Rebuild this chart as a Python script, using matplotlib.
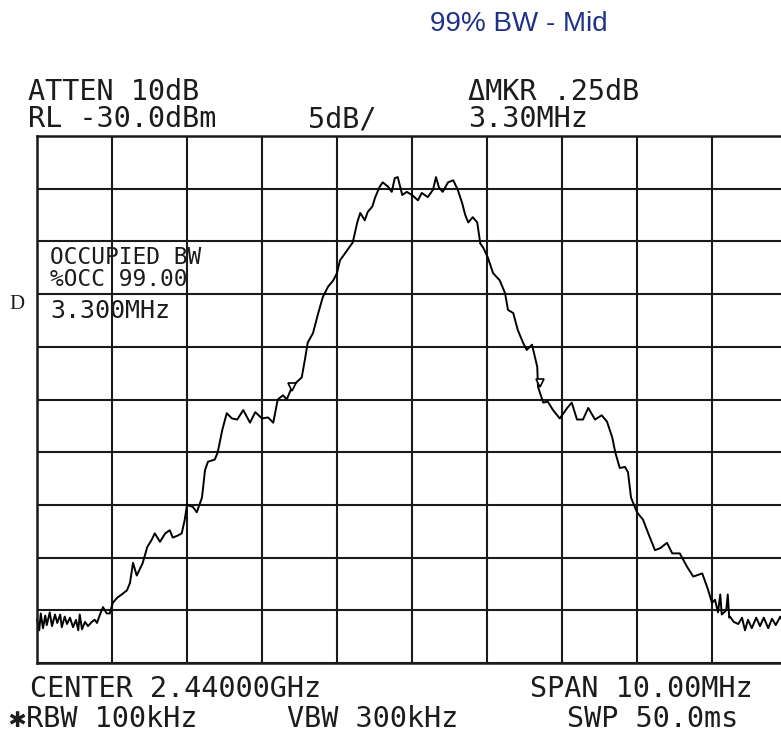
import matplotlib
matplotlib.use("Agg")
import matplotlib.pyplot as plt

# Spectrum analyser trace: frequency offset from center (MHz) and level (dBm)
freq_mhz = [-5.00, -4.97, -4.95, -4.92, -4.89, -4.87, -4.83, -4.80, -4.76, -4.73,
            -4.69, -4.67, -4.63, -4.60, -4.56, -4.52, -4.48, -4.45, -4.43, -4.40,
            -4.36, -4.32, -4.27, -4.23, -4.20, -4.16, -4.12, -4.07, -4.03, -3.99,
            -3.93, -3.87, -3.80, -3.76, -3.72, -3.67, -3.59, -3.53, -3.47, -3.43,
            -3.36, -3.29, -3.23, -3.19, -3.12, -3.07, -3.03, -3.00, -2.92, -2.87,
            -2.80, -2.76, -2.72, -2.63, -2.59, -2.53, -2.47, -2.40, -2.33, -2.25,
            -2.16, -2.09, -2.00, -1.92, -1.85, -1.79, -1.72, -1.67, -1.60, -1.53,
            -1.47, -1.43, -1.39, -1.32, -1.25, -1.19, -1.12, -1.05, -1.00, -0.96,
            -0.89, -0.83, -0.79, -0.73, -0.69, -0.63, -0.59, -0.53, -0.49, -0.43,
            -0.39, -0.32, -0.27, -0.23, -0.19, -0.13, -0.07, 0.00, 0.08, 0.13,
            0.21, 0.28, 0.32, 0.36, 0.41, 0.48, 0.55, 0.61, 0.67, 0.71,
            0.75, 0.81, 0.87, 0.91, 0.95, 1.01, 1.08, 1.17, 1.24, 1.28,
            1.35, 1.41, 1.48, 1.53, 1.60, 1.67, 1.68, 1.75, 1.81, 1.88,
            1.97, 2.07, 2.13, 2.20, 2.28, 2.35, 2.44, 2.53, 2.60, 2.67,
            2.71, 2.77, 2.84, 2.88, 2.92, 3.00, 3.08, 3.15, 3.24, 3.31,
            3.40, 3.47, 3.57, 3.67, 3.75, 3.87, 3.95, 4.00, 4.04, 4.08,
            4.11, 4.13, 4.19, 4.21, 4.23, 4.24, 4.29, 4.35, 4.40, 4.44,
            4.48, 4.53, 4.59, 4.64, 4.69, 4.75, 4.80, 4.85, 4.91, 4.96, 5.00]
level_dbm = [-75.9, -76.9, -75.3, -76.7, -75.5, -76.4, -75.2, -76.5, -75.4, -76.2,
             -75.4, -76.6, -75.6, -76.3, -75.7, -76.6, -75.9, -76.9, -75.4, -76.8,
             -76.1, -76.5, -76.1, -75.9, -76.2, -75.4, -74.7, -75.3, -75.3, -74.3,
             -73.8, -73.5, -73.1, -72.4, -70.5, -71.7, -70.5, -69.0, -68.3, -67.7,
             -68.5, -67.7, -67.4, -68.1, -67.9, -67.7, -66.4, -65.0, -65.2, -65.7,
             -64.3, -61.7, -60.9, -60.7, -60.0, -57.9, -56.3, -56.8, -56.9, -56.0,
             -57.2, -56.2, -56.8, -56.7, -57.2, -55.0, -54.6, -55.0, -53.8, -53.3,
             -52.9, -51.3, -49.6, -48.7, -46.8, -45.3, -44.3, -43.7, -43.0, -41.8,
             -41.1, -40.5, -40.1, -38.2, -37.3, -38.0, -37.2, -36.7, -35.8, -34.8,
             -34.4, -34.8, -35.3, -34.0, -33.9, -35.6, -35.3, -35.6, -36.1, -35.4,
             -35.8, -35.1, -33.9, -34.9, -35.3, -34.4, -34.2, -35.1, -36.4, -37.5,
             -38.2, -37.7, -38.2, -40.2, -40.6, -41.5, -43.0, -43.7, -44.9, -46.5,
             -46.8, -48.4, -49.6, -50.3, -49.8, -51.9, -53.8, -55.3, -55.2, -56.0,
             -56.8, -55.8, -55.3, -56.9, -56.9, -55.8, -56.9, -56.5, -57.1, -58.6,
             -60.0, -61.5, -61.4, -61.9, -64.3, -65.7, -66.4, -67.7, -69.3, -69.1,
             -68.6, -69.6, -69.6, -70.9, -71.8, -71.5, -73.1, -74.3, -74.0, -75.2,
             -73.5, -75.4, -75.0, -73.5, -75.7, -75.6, -76.1, -76.3, -75.7, -76.9,
             -75.9, -76.7, -75.7, -76.5, -75.7, -76.7, -75.8, -76.4, -75.6, -76.3, -75.9]

# occupied bandwidth markers
marker_freq = [-1.60, 1.71]
marker_level = [-53.8, -53.4]

title = "99% BW - Mid"
header_left = ["ATTEN 10dB", "RL -30.0dBm"]
header_mid = "5dB/"
header_right = ["\u0394MKR .25dB", "3.30MHz"]
obw_lines = ["OCCUPIED BW", "%OCC 99.00", "3.300MHz"]
footer_left = ["CENTER 2.44000GHz", "\u2731RBW 100kHz"]
footer_mid = "VBW 300kHz"
footer_right = ["SPAN 10.00MHz", "SWP 50.0ms"]

W, H = 781, 735
fig = plt.figure(figsize=(W / 100, H / 100), dpi=100)
fig.patch.set_facecolor("white")

# plot area: x 37..787 px, y 136..663 px (right edge is cut off by the image)
ax = fig.add_axes([37 / W, 1 - 663 / H, 750 / W, 527 / H])
ax.set_xlim(-5, 5)
ax.set_ylim(-80, -30)
ax.set_xticks(range(-5, 6))
ax.set_yticks(range(-80, -29, 5))
ax.tick_params(length=0, labelbottom=False, labelleft=False)
ax.grid(True, color="#1a1a1a", lw=1.5)
for s in ax.spines.values():
    s.set_color("#1a1a1a")
    s.set_linewidth(1.8)
ax.plot(freq_mhz, level_dbm, color="black", lw=1.4, clip_on=False)
ax.plot(marker_freq, marker_level, ls="none", marker="v", ms=6,
        mfc="white", mec="black", mew=1.2)

mono = ["DejaVu Sans Mono", "DejaVu Sans"]
tc = "#1c1c1c"


def put(x, y, s, size=20.5):
    fig.text(x / W, 1 - y / H, s, family=mono, fontsize=size, color=tc,
             va="baseline", ha="left")


fig.text(519 / W, 1 - 31 / H, title, family="Liberation Sans", fontsize=20,
         color="#1f3188", ha="center", va="baseline")

put(28, 100, header_left[0])
put(28, 127, header_left[1])
put(308, 127, header_mid)
put(468, 100, header_right[0])
put(468, 127, header_right[1])

put(50, 264, obw_lines[0], size=16.5)
put(50, 286, obw_lines[1], size=16.5)
put(50, 318, obw_lines[2], size=18)
fig.text(9 / W, 1 - 309 / H, "D", family="Liberation Serif", fontsize=15,
         color=tc, va="baseline", ha="left")

put(30, 697, footer_left[0])
put(9, 727, footer_left[1])
put(287, 727, footer_mid)
put(530, 697, footer_right[0])
put(567, 727, footer_right[1])

fig.savefig("out.png", dpi=100, facecolor="white")
